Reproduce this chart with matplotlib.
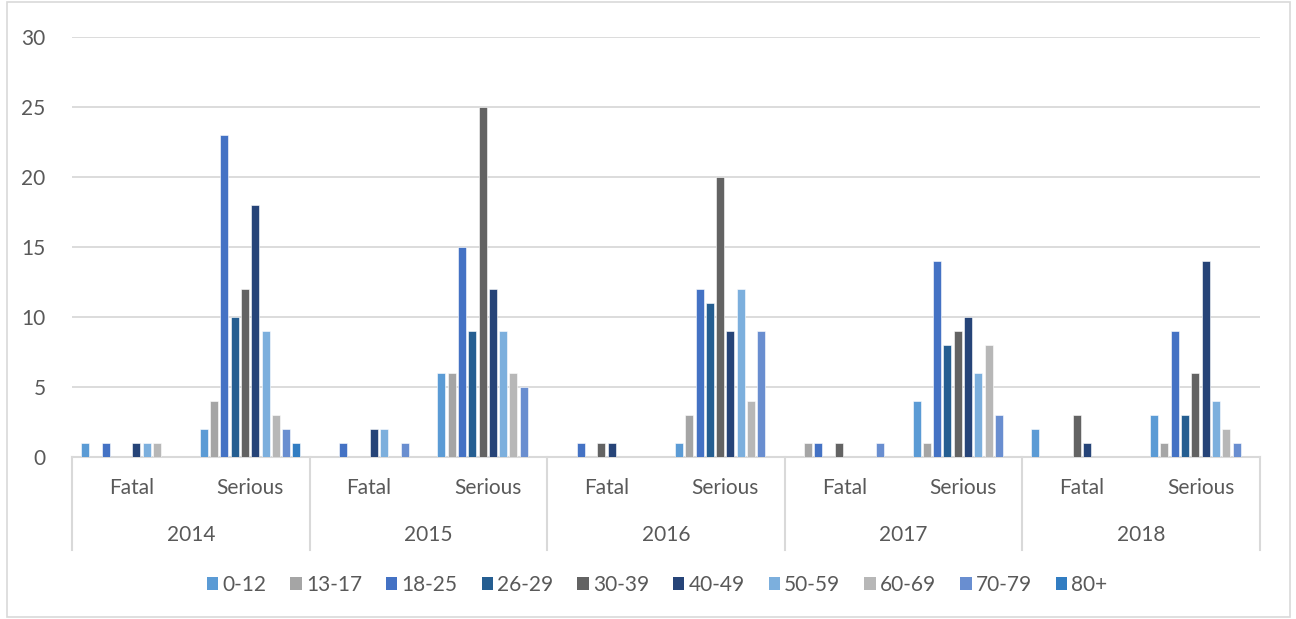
import matplotlib
matplotlib.use("Agg")
import numpy as np
import matplotlib.pyplot as plt
from matplotlib.patches import Patch, Rectangle
from matplotlib.lines import Line2D
import matplotlib.transforms as mtransforms

years = ["2014", "2015", "2016", "2017", "2018"]
severity = ["Fatal", "Serious"]
age_groups = ["0-12", "13-17", "18-25", "26-29", "30-39",
              "40-49", "50-59", "60-69", "70-79", "80+"]

# casualties per age group, one row per (year, severity) in order
fatal_2014 = [1, 0, 1, 0, 0, 1, 1, 1, 0, 0]
serious_2014 = [2, 4, 23, 10, 12, 18, 9, 3, 2, 1]
fatal_2015 = [0, 0, 1, 0, 0, 2, 2, 0, 1, 0]
serious_2015 = [6, 6, 15, 9, 25, 12, 9, 6, 5, 0]
fatal_2016 = [0, 0, 1, 0, 1, 1, 0, 0, 0, 0]
serious_2016 = [1, 3, 12, 11, 20, 9, 12, 4, 9, 0]
fatal_2017 = [0, 1, 1, 0, 1, 0, 0, 0, 1, 0]
serious_2017 = [4, 1, 14, 8, 9, 10, 6, 8, 3, 0]
fatal_2018 = [2, 0, 0, 0, 3, 1, 0, 0, 0, 0]
serious_2018 = [3, 1, 9, 3, 6, 14, 4, 2, 1, 0]

colors = ["#5B9BD5", "#A5A5A5", "#4472C4", "#255E91", "#636363",
          "#264478", "#7CAFDD", "#B7B7B7", "#698ED0", "#327DC2"]

rows = [fatal_2014, serious_2014, fatal_2015, serious_2015, fatal_2016,
        serious_2016, fatal_2017, serious_2017, fatal_2018, serious_2018]
data = np.array(rows)  # shape (10 categories, 10 age groups)

plt.rcParams['font.family'] = ['Lato', 'DejaVu Sans']
txt_color = "#595959"
grid_color = "#D9D9D9"
fs = 15

fig = plt.figure(figsize=(12.96, 6.19), dpi=100)
ax = fig.add_axes([72 / 1296, 1 - 457 / 619, (1260 - 72) / 1296, 420 / 619])

n_cat = data.shape[0]
step = 0.0867
width = 0.068
x0 = np.arange(n_cat)
for j, grp in enumerate(age_groups):
    xs = x0 + 0.109 + j * step
    ax.bar(xs, data[:, j], width=width, color=colors[j],
           edgecolor="white", linewidth=0.4, zorder=3)

ax.set_xlim(0, n_cat)
ax.set_ylim(0, 30)
ax.set_yticks(range(0, 31, 5))
ax.yaxis.grid(True, color=grid_color, linewidth=1.3, zorder=0)
ax.set_axisbelow(True)
for s in ["left", "right", "top"]:
    ax.spines[s].set_visible(False)
ax.spines["bottom"].set_color(grid_color)
ax.spines["bottom"].set_linewidth(1.5)
ax.tick_params(axis="y", length=0, pad=19, labelsize=fs, labelcolor=txt_color)
ax.set_xticks([])

# two-level category axis: severity row, then year row with separators
trans = mtransforms.blended_transform_factory(ax.transData, ax.transAxes)
for i in range(n_cat):
    ax.text(i + 0.5, -31 / 420, severity[i % 2], transform=trans,
            ha="center", va="center", fontsize=fs, color=txt_color)
for k, yr in enumerate(years):
    ax.text(2 * k + 1, -78 / 420, yr, transform=trans,
            ha="center", va="center", fontsize=fs, color=txt_color)
for k in range(len(years) + 1):
    ax.add_line(Line2D([2 * k, 2 * k], [0, -93 / 420], transform=trans,
                       color=grid_color, linewidth=1.5, clip_on=False))

handles = [Patch(facecolor=c, edgecolor="none") for c in colors]
fig.legend(handles, age_groups, loc="center", bbox_to_anchor=(0.507, 1 - 585 / 619),
           ncol=10, frameon=False, fontsize=fs, handlelength=0.55, handleheight=0.55,
           handletextpad=0.2, columnspacing=1.15, labelcolor=txt_color)

# outer chart frame
fig.patches.append(Rectangle((7 / 1296, 0.003), 1283 / 1296, 0.994,
                             transform=fig.transFigure, fill=False,
                             edgecolor=grid_color, linewidth=1.2))

fig.savefig("out.png", dpi=100)
